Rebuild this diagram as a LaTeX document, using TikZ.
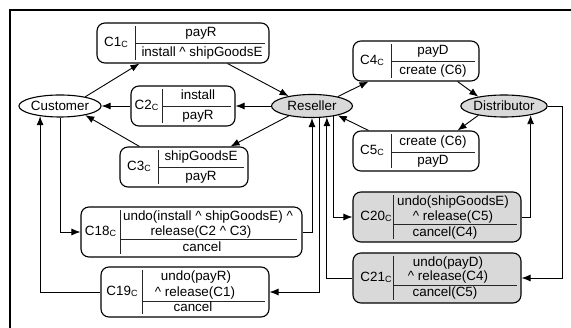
\documentclass[tikz,border=0pt]{standalone}
\usepackage{fontspec}
\setmainfont{Liberation Sans}
\usetikzlibrary{arrows.meta,shapes.geometric}
\definecolor{boxgray}{HTML}{D9D9D9}
% small lowered "C" after each contract number
\newcommand\subc{\raisebox{-1.5pt}{\fontsize{9}{9}\selectfont C}}
\newcommand\caret{\textasciicircum}

\begin{document}
\begin{tikzpicture}[x=1pt,y=-1pt,
  font=\fontsize{13.4}{15}\selectfont,
  cbox/.style={draw, rounded corners=8pt, line width=1.1pt, inner sep=0pt},
  party/.style={draw, ellipse, line width=1.1pt, inner sep=0pt, minimum height=22pt},
  txt/.style={inner sep=0pt, text height=9.5pt, text depth=2.5pt},
  sep/.style={line width=0.8pt, draw=black!85},
  link/.style={line width=0.9pt, -{Latex[length=9pt,width=7pt]}},
]
\useasboundingbox (0,0) rectangle (571,328);

% frame
\draw[line width=1.8pt] (10,328) -- (10,10) -- (571,10);

% roles
\node[party, minimum width=80pt] (Customer) at (60,106) {Customer};
\node[party, fill=boxgray, minimum width=81pt, minimum height=23pt] (Reseller) at (312,106) {Reseller};
\node[party, fill=boxgray, minimum width=86pt] (Distributor) at (504,106) {Distributor};

% C1
\node[cbox, minimum width=172pt, minimum height=40pt] (C1) at (183,43) {};
\draw[sep] (135,26) -- (135,60);
\draw[sep] (135,43) -- (265,43);
\node[txt] (C1l) at (116,43) {C1\subc};
\node[txt] (C1t) at (201,33) {payR};
\node[txt] (C1b) at (202,53) {install \caret{} shipGoodsE};

% C2
\node[cbox, minimum width=104pt, minimum height=40pt] (C2) at (183,106) {};
\draw[sep] (162,89) -- (162,123);
\draw[sep] (162,106) -- (231,106);
\node[txt] (C2l) at (146.5,106) {C2\subc};
\node[txt] (C2t) at (198,96.5) {install};
\node[txt] (C2b) at (198,116) {payR};

% C3
\node[cbox, minimum width=128pt, minimum height=40pt] (C3) at (184,167) {};
\draw[sep] (158,150) -- (158,184);
\draw[sep] (158,167) -- (244,167);
\node[txt] (C3l) at (139,167) {C3\subc};
\node[txt] (C3t) at (201,157) {shipGoodsE};
\node[txt] (C3b) at (201,177) {payR};

% C4
\node[cbox, minimum width=126pt, minimum height=40pt] (C4) at (416,61) {};
\draw[sep] (391,44) -- (391,78);
\draw[sep] (391,61) -- (475,61);
\node[txt] (C4l) at (372,61) {C4\subc};
\node[txt] (C4t) at (433,51) {payD};
\node[txt] (C4b) at (433,71) {create (C6)};

% C5
\node[cbox, minimum width=126pt, minimum height=40pt] (C5) at (416,151) {};
\draw[sep] (391,134) -- (391,168);
\draw[sep] (391,152) -- (475,152);
\node[txt] (C5l) at (372,151) {C5\subc};
\node[txt] (C5t) at (433,142.5) {create (C6)};
\node[txt] (C5b) at (433,161) {payD};

% C18
\node[cbox, minimum width=221pt, minimum height=50pt] (C18) at (191.5,232) {};
\draw[sep] (120,210) -- (120,254);
\draw[sep] (120,239) -- (297,239);
\node[txt] (C18l) at (100.5,232) {C18\subc};
\node[txt] (C18t1) at (208,217) {undo(install \caret{} shipGoodsE) \caret};
\node[txt] (C18t2) at (201,232.5) {release(C2 \caret{} C3)};
\node[txt] (C18b) at (202,248) {cancel};

% C19
\node[cbox, minimum width=168pt, minimum height=50pt] (C19) at (185,292) {};
\draw[sep] (142,270) -- (142,314);
\draw[sep] (142,301) -- (265,301);
\node[txt] (C19l) at (122,292) {C19\subc};
\node[txt] (C19t1) at (196,277) {undo(payR)};
\node[txt] (C19t2) at (195,293) {\caret{} release(C1)};
\node[txt] (C19b) at (193,308) {cancel};

% C20
\node[cbox, fill=boxgray, minimum width=168pt, minimum height=50pt] (C20) at (437,217) {};
\draw[sep] (393,195) -- (393,239);
\draw[sep] (393,224) -- (517,224);
\node[txt] (C20l) at (376,217) {C20\subc};
\node[txt] (C20t1) at (453,202) {undo(shipGoodsE)};
\node[txt] (C20t2) at (453,217) {\caret{} release(C5)};
\node[txt] (C20b) at (445,233) {cancel(C4)};

% C21
\node[cbox, fill=boxgray, minimum width=168pt, minimum height=50pt] (C21) at (437,278) {};
\draw[sep] (393,256) -- (393,300);
\draw[sep] (393,285) -- (517,285);
\node[txt] (C21l) at (376,278) {C21\subc};
\node[txt] (C21t1) at (448,263) {undo(payD)};
\node[txt] (C21t2) at (448,277) {\caret{} release(C4)};
\node[txt] (C21b) at (445,293) {cancel(C5)};

% diagonal and straight flows
\draw[link] (Customer.20) -- ([xshift=43pt]C1.south west);
\draw[link] ([xshift=-42pt]C1.south east) -- (Reseller.157);
\draw[link] (Reseller.west) -- (C2.east);
\draw[link] (C2.west) -- (Customer.east);
\draw[link] (Reseller.-157) -- ([xshift=-18pt]C3.north east);
\draw[link] ([xshift=20pt]C3.north west) -- (Customer.-20);
\draw[link] (Reseller.20) -- ([xshift=16pt]C4.south west);
\draw[link] ([xshift=-22pt]C4.south east) -- (Distributor.160);
\draw[link] (Distributor.-160) -- ([xshift=-22pt]C5.north east);
\draw[link] ([xshift=16pt]C5.north west) -- (Reseller.-20);

% compensation flows
\draw[link] (Customer.south) |- (C18.west);
\draw[link] (C19.west) -| (Customer.-153);
\draw[link] (C18.east) -| (Reseller.south);
\draw[link] (Reseller.-59) |- (C19.east);
\draw[link] (C21.west) -| (Reseller.-37);
\draw[link] (Reseller.-26) |- (C20.west);
\draw[link] (C20.east) -| (Distributor.-19);
\draw[link] (Distributor.east) -- ++(15,0) |- (C21.east);
\end{tikzpicture}
\end{document}
